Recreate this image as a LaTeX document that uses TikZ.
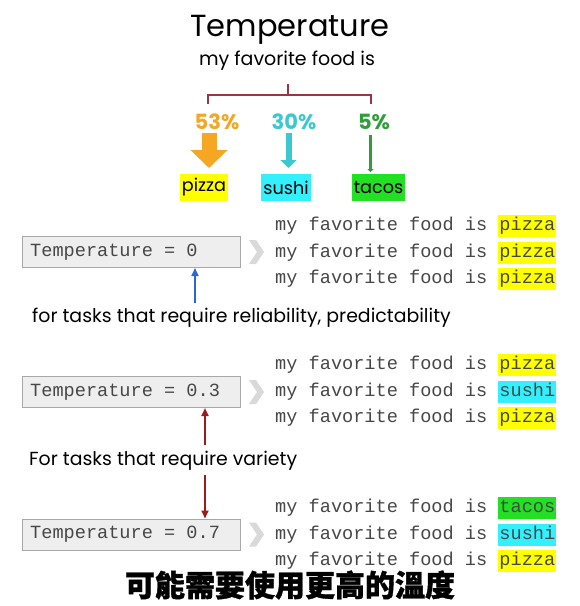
\documentclass[tikz,border=0pt]{standalone}
\usepackage{fontspec}
\setmainfont{Poppins}
\setmonofont{Liberation Mono}[WordSpace={1,0,0}]
\newfontfamily\cjk{Noto Sans CJK TC}[BoldFeatures={FakeBold=1.2}]
\usetikzlibrary{arrows.meta}
\definecolor{bracketred}{HTML}{9B3445}
\definecolor{orangeC}{HTML}{F5A623}
\definecolor{cyanC}{HTML}{3CC8D0}
\definecolor{greenC}{HTML}{2E9E3A}
\definecolor{hlyellow}{HTML}{FFFF00}
\definecolor{hlcyan}{HTML}{33F0FF}
\definecolor{hlgreen}{HTML}{22E022}
\definecolor{boxgray}{HTML}{EEEEEE}
\definecolor{boxborder}{HTML}{A8A8A8}
\definecolor{chev}{HTML}{D9D9D9}
\definecolor{darkred}{HTML}{9E1B1B}
\definecolor{blueA}{HTML}{2A66D6}
\tikzset{
  food/.style={inner sep=2pt, minimum height=27pt, font=\fontsize{17.6}{19}\selectfont, text=black},
  pct/.style={font=\fontsize{21}{23}\selectfont\bfseries},
  tempbox/.style={draw=boxborder, fill=boxgray, line width=1pt, minimum width=218pt, minimum height=31pt, anchor=west},
  boxtext/.style={anchor=west, inner sep=0pt, font=\ttfamily\fontsize{18.6}{20}\selectfont, text=black!72},
  outline/.style={anchor=west, inner sep=0pt, font=\ttfamily\fontsize{18.6}{20}\selectfont, text=black!72},
  note/.style={anchor=west, inner sep=0pt, font=\fontsize{18.9}{21}\selectfont, text=black},
}
\newcommand{\hl}[2]{{\setlength{\fboxsep}{1pt}\colorbox{#1}{\strut #2}}}
\begin{document}
\begin{tikzpicture}[x=1pt,y=-1pt]
\useasboundingbox (0,0) rectangle (580,606);
\fill[white] (0,0) rectangle (580,606);
% title
\node (title) at (290,30) {\fontsize{30.5}{32}\selectfont Temperature};
\node (sub) at (287,61) {\fontsize{19}{21}\selectfont my favorite food is};
% bracket
\coordinate (bl) at (208,104);
\coordinate (br) at (371,104);
\coordinate (bm) at (288,84);
\draw[bracketred, line width=1.2pt] (bl) -- (208,95) -- (371,95) -- (br);
\draw[bracketred, line width=1.2pt] (288,95) -- (bm);
% percentages
\node[pct, text=orangeC] (p53) at (217,122) {53\%};
\node[pct, text=cyanC] (p30) at (294,122) {30\%};
\node[pct, text=greenC] (p5) at (374,122) {5\%};
% food boxes
\node[food, fill=hlyellow, minimum width=48pt] (pizza) at (204,187.5) {pizza};
\node[food, fill=hlcyan, minimum width=48pt] (sushi) at (286,187.5) {sushi};
\node[food, fill=hlgreen, minimum width=53pt] (tacos) at (378.5,187.5) {tacos};
% arrows
\draw[orangeC, line width=15pt, -{Triangle[width=36pt,length=18pt]}] (209,133) -- (209,168);
\draw[cyanC, line width=6pt, -{Triangle[width=16pt,length=8pt]}] (288.5,133) -- (288.5,168);
\draw[greenC, line width=2.2pt, -{Triangle[width=6pt,length=3pt]}] (370.5,135) -- (370.5,172);
% rows
\foreach \i/\y/\val in {1/252/0, 2/392/0.3, 3/534.5/0.7}{
  \node[tempbox] (t\i) at (22,\y) {};
  \node[boxtext] (tt\i) at (30,\y) {Temperature = \val};
  \fill[chev] ([xshift=8pt]t\i.east) ++(0,-12) -- ++(7,0) -- ++(8,12) -- ++(-8,12) -- ++(-7,0) -- ++(8,-12) -- cycle;
}
\node[outline] (a1) at (275,226) {my favorite food is \hl{hlyellow}{pizza}};
\node[outline] (a2) at (275,253) {my favorite food is \hl{hlyellow}{pizza}};
\node[outline] (a3) at (275,279) {my favorite food is \hl{hlyellow}{pizza}};
\node[outline] (b1) at (275,365) {my favorite food is \hl{hlyellow}{pizza}};
\node[outline] (b2) at (275,392) {my favorite food is \hl{hlcyan}{sushi}};
\node[outline] (b3) at (275,418) {my favorite food is \hl{hlyellow}{pizza}};
\node[outline] (c1) at (275,508) {my favorite food is \hl{hlgreen}{tacos}};
\node[outline] (c2) at (275,535) {my favorite food is \hl{hlcyan}{sushi}};
\node[outline] (c3) at (275,561) {my favorite food is \hl{hlyellow}{pizza}};
% notes
\node[note] (n1) at (32,318) {for tasks that require reliability, predictability};
\node[note] (n2) at (29,461) {For tasks that require variety};
\coordinate (ba) at (195,303);
\draw[blueA, line width=1.6pt, -{Triangle[width=7pt,length=8pt]}] (ba) -- (t1.south -| ba) ;
\coordinate (ra) at (205,445);
\draw[darkred, line width=2pt, -{Triangle[width=7pt,length=8pt]}] (ra) -- (t2.south -| ra);
\coordinate (rb) at (205,475);
\draw[darkred, line width=2pt, -{Triangle[width=7pt,length=8pt]}] (rb) -- (t3.north -| rb);
% caption
\node (cap) at (290,585) {\cjk\bfseries\fontsize{30}{32}\selectfont 可能需要使用更高的溫度};
\end{tikzpicture}
\end{document}
